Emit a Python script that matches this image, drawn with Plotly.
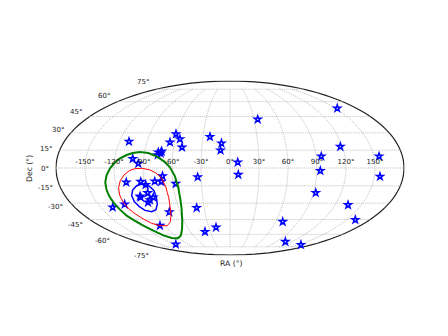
"""Sky map of source positions with credible-region contours, Mollweide projection."""
import numpy as np
import plotly.graph_objects as go

# source positions
star_ra = [-109.7, -60.7, -54.9, -65.0, -51.1, -75.4, -72.0, -75.6, -72.7, -101.2, -95.0, -70.1, -78.8,
           -72.0, -108.8, -93.5, -88.9, -57.1, -33.6, -88.9, -98.5, -98.1, -84.3, -89.0, -92.3, -136.0,
           -119.9, -38.8, -72.8, -96.8, -38.0, -19.8, -116.9, -22.2, -9.2, -10.0, 152.6, 34.6, 117.7,
           8.0, 8.6, 95.3, 93.5, 155.6, 155.9, 92.5, 134.9, 161.2, 69.3, 107.7, 155.6]
star_dec = [22.4, 29.0, 24.6, 21.8, 17.5, 13.2, 14.1, 10.9, 12.4, 7.8, 3.8, -6.7, -11.2, -11.5, -12.0,
            -11.5, -14.1, -13.2, -7.6, -21.1, -24.0, -24.9, -24.9, -27.2, -29.3, -33.7, -31.0, -34.2,
            -38.0, -51.0, -57.2, -52.7, -71.7, 26.6, 20.9, 14.9, 53.1, 42.3, 18.0, 4.8, -5.6, 9.8, -2.3,
            9.8, -7.1, -20.9, -31.6, -45.2, -47.1, -68.4, -72.2]

# contours
green_ra = [-94.7, -102.2, -108.1, -114.5, -119.2, -124.1, -128.0, -130.8, -131.8, -132.0, -131.1, -129.6,
            -127.8, -123.9, -119.7, -114.3, -108.9, -101.6, -92.6, -81.2, -69.6, -62.0, -56.7, -55.0,
            -54.8, -57.2, -62.1, -68.5, -76.6, -85.8]
green_dec = [13.5, 12.6, 10.9, 8.1, 4.8, -0.3, -5.9, -12.1, -17.7, -24.0, -29.9, -35.8, -41.4, -46.4, -51.0,
             -56.1, -61.1, -64.1, -64.5, -61.5, -54.4, -46.1, -35.2, -26.4, -16.3, -7.0, 0.6, 5.6, 9.8, 12.6]
red_ra = [-98.3, -104.2, -110.0, -114.7, -118.1, -120.1, -120.1, -118.7, -115.5, -110.7, -105.0, -96.7,
          -86.6, -78.4, -73.0, -69.1, -67.4, -67.9, -71.2, -76.7, -83.5, -91.4]
red_dec = [-0.6, -2.2, -5.9, -10.6, -16.3, -22.9, -29.3, -34.6, -39.5, -44.5, -48.7, -51.0, -51.0, -47.1,
           -41.4, -32.8, -24.9, -16.3, -8.7, -4.2, -1.4, -0.3]
blue_ra = [-93.0, -98.6, -104.1, -107.3, -107.3, -104.7, -100.7, -93.7, -87.2, -82.6, -80.9, -81.4, -85.4]
blue_dec = [-13.5, -14.9, -18.6, -23.5, -28.7, -33.1, -36.5, -37.7, -35.8, -30.8, -24.9, -19.1, -15.4]

ra_ticks = [-150, -120, -90, -60, -30, 0, 30, 60, 90, 120, 150]
dec_ticks = [-75, -60, -45, -30, -15, 0, 15, 30, 45, 60, 75]
FONT = "DejaVu Sans"
TEXT_COLOR = "#222222"
GRID = dict(color="#c0c0c0", width=1, dash="1px,1px")
BODY_MARGIN = 8  # the browser's default body margin pushes the figure down and right

# where the Dec labels sit on the page, in window pixels
DEC_LABEL_PX = {
    -75: (141.7, 255.7), -60: (102.7, 241), -45: (75, 225), -30: (55, 207.3), -15: (45, 188.3), 0: (44.7, 168.7),
    15: (46.3, 149.3), 30: (57.7, 130.3), 45: (76.3, 112), 60: (104, 95.7), 75: (142.7, 82.3),
}


def page_text(text, x_px, y_px, size=7, angle=0):
    return dict(text=text, x=(x_px - BODY_MARGIN) / 448, y=1 - (y_px - BODY_MARGIN) / 336,
                xref="paper", yref="paper", showarrow=False,
                xanchor="center", yanchor="middle", textangle=angle,
                font=dict(family=FONT, size=size, color=TEXT_COLOR))


fig = go.Figure()

for ra in ra_ticks:
    fig.add_trace(go.Scattergeo(lon=[ra, ra], lat=[-75, 75], mode="lines", line=GRID, hoverinfo="skip"))
for dec in dec_ticks:
    lons = np.arange(-180, 181, 5)
    fig.add_trace(go.Scattergeo(lon=lons, lat=[dec] * len(lons), mode="lines", line=GRID, hoverinfo="skip"))

fig.add_trace(
    go.Scattergeo(
        lon=star_ra,
        lat=star_dec,
        mode="markers",
        marker=dict(symbol="star-open", size=5, color="blue", line=dict(color="blue", width=1.5)),
    )
)

for ra, dec, color, width in [
    (green_ra, green_dec, "green", 2),
    (red_ra, red_dec, "red", 1),
    (blue_ra, blue_dec, "blue", 1.5),
]:
    fig.add_trace(
        go.Scattergeo(
            lon=ra + ra[:1],
            lat=dec + dec[:1],
            mode="lines",
            line=dict(color=color, width=width),
        )
    )

# RA tick labels
fig.add_trace(
    go.Scattergeo(
        lon=ra_ticks,
        lat=[1.7] * len(ra_ticks),
        mode="text",
        text=[f"{t}°" for t in ra_ticks],
        textposition="top center",
        textfont=dict(family=FONT, size=7, color=TEXT_COLOR),
    )
)

fig.update_geos(
    projection_type="mollweide",
    domain_x=[48 / 448, 396 / 448],
    domain_y=[89 / 336, 263 / 336],
    bgcolor="white",
    showland=False,
    showocean=False,
    showlakes=False,
    showrivers=False,
    showcountries=False,
    showcoastlines=False,
    showframe=True,
    framecolor="#222222",
    framewidth=1.2,
)
annotations = [page_text(f"{d}°", *DEC_LABEL_PX[d]) for d in dec_ticks]
annotations.append(page_text("RA (°)", 231, 263, size=7.7))
annotations.append(page_text("Dec (°)", 29, 169, size=7.7, angle=-90))
fig.update_layout(
    width=448,
    height=336,
    margin=dict(l=0, r=0, t=0, b=0),
    showlegend=False,
    paper_bgcolor="white",
    annotations=annotations,
)
fig.write_html("out.html")
